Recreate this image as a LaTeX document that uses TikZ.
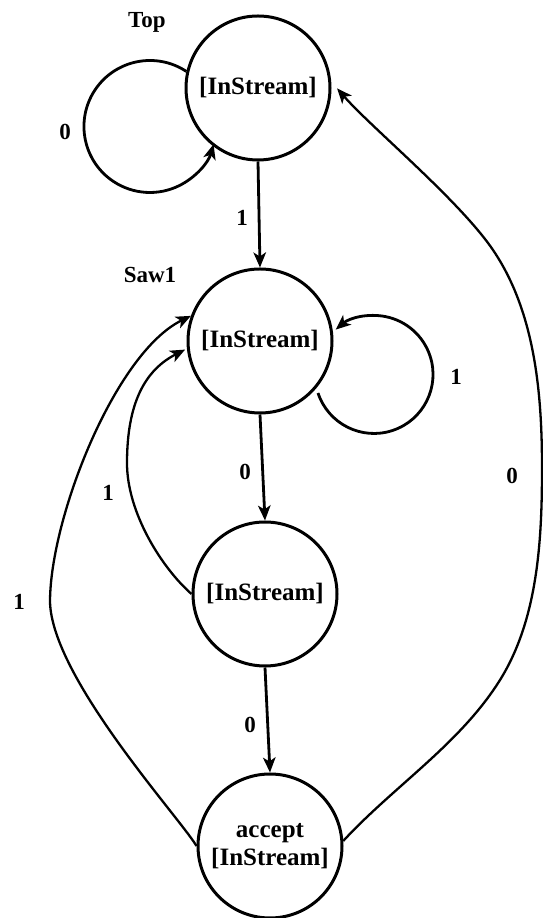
\documentclass[tikz,border=0pt]{standalone}
\usepackage{fontspec}
\setmainfont{Liberation Serif}
\usetikzlibrary{arrows.meta}
\begin{document}
\begin{tikzpicture}[x=1pt,y=1pt,
  state/.style={circle, draw, line width=3pt, minimum size=144pt, inner sep=0pt,
    font=\fontsize{25}{28}\selectfont\bfseries, align=center},
  lbl/.style={font=\fontsize{23}{26}\selectfont\bfseries, inner sep=0pt},
  tr/.style={line width=2.8pt, -{Stealth[length=15pt,width=12.5pt,inset=4pt]}},
  thin tr/.style={tr, line width=2.3pt},
]
\useasboundingbox (0,0) rectangle (543,918);

% states
\node[state] (top) at (258,830) {[InStream]};
\node[state] (saw) at (260,577) {[InStream]};
\node[state] (mid) at (265,324) {[InStream]};
\node[state] (acc) at (270,72)  {accept\\{}[InStream]};

% state names
\node[lbl] (nTop) at (147,896) {Top};
\node[lbl] (nSaw) at (150,643) {Saw1};

% straight transitions
\draw[tr] (top.south) -- (saw.north);
\draw[tr] (saw.south) -- (mid.north);
\draw[tr] (mid.south) -- (acc.north);

% self loop on Top
\draw[tr] (top.167) arc[start angle=56.5, end angle=344.4, radius=66];

% self loop on Saw1 (its tail stops short of the circle)
\coordinate (sawLoopTail) at (318,525);
\draw[tr] (sawLoopTail) arc[start angle=198.3, end angle=490.5, radius=59];

% back to Saw1 from the third state
\draw[thin tr, shorten >=2pt] (mid.west) .. controls (162,350) and (127,405) .. (127,455)
  .. controls (127,515) and (145,548) .. (saw.186);

% back to Saw1 from accept
\draw[thin tr] (acc.west) .. controls (180,100) and (52,240) .. (50,316)
  .. controls (50,400) and (115,565) .. (saw.160);

% back to Top from accept
\draw[thin tr, shorten >=9pt] (acc.4) .. controls (394,132) and (460,174) .. (500,238)
  .. controls (538,299) and (542,378) .. (542,450)
  .. controls (542,525) and (535,606) .. (493,668)
  .. controls (459,718) and (370.6,791) .. (top.5);

% transition labels
\node[lbl] (l0a) at (65,786)  {0};
\node[lbl] (l1a) at (242,700) {1};
\node[lbl] (l1b) at (456,541) {1};
\node[lbl] (l0b) at (245,446) {0};
\node[lbl] (l1c) at (108,425) {1};
\node[lbl] (l0c) at (512,442) {0};
\node[lbl] (l1d) at (19,316)  {1};
\node[lbl] (l0d) at (250,193) {0};
\end{tikzpicture}
\end{document}
